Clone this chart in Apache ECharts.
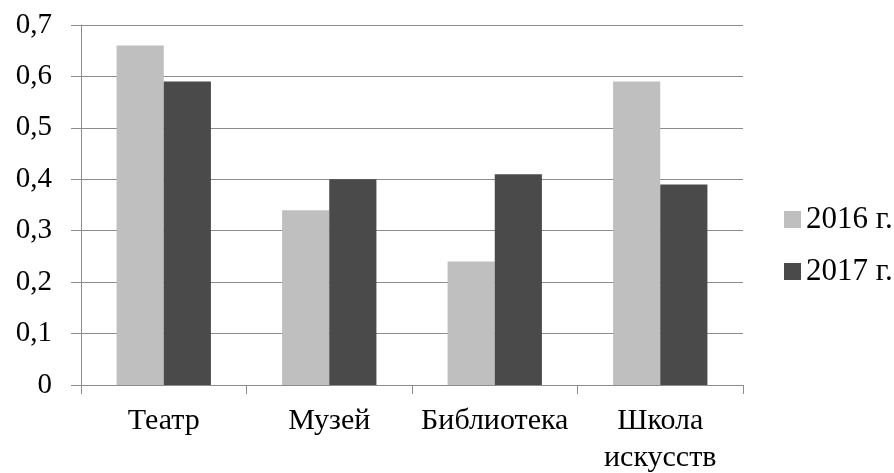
<!DOCTYPE html>
<html>
<head>
<meta charset="utf-8">
<script src="https://cdn.jsdelivr.net/npm/echarts@6/dist/echarts.min.js"></script>
<style>
  html, body { margin: 0; padding: 0; background: #fff; }
  #chart { width: 894px; height: 473px; }
</style>
</head>
<body>
<div id="chart"></div>
<script>
// Categories and values per year
const categories = ['Театр', 'Музей', 'Библиотека', 'Школа\nискусств'];
const years = ['2016 г.', '2017 г.'];
const values2016 = [0.66, 0.34, 0.24, 0.59];
const values2017 = [0.59, 0.40, 0.41, 0.39];
const yTicks = { min: 0, max: 0.7, interval: 0.1 };

const FONT = '"Liberation Serif", "DejaVu Serif", serif';
const GRID_COLOR = '#8c8c8c';

const chart = echarts.init(document.getElementById('chart'));
chart.setOption({
  animation: false,
  backgroundColor: '#ffffff',
  grid: {
    left: 81, right: 151, top: 25, bottom: 88,
    containLabel: false, outerBoundsMode: 'none'
  },
  legend: {
    orient: 'vertical',
    left: 784,
    top: 204,
    padding: 0,
    itemWidth: 17,
    itemHeight: 17,
    itemGap: 21,
    icon: 'rect',
    textStyle: { fontFamily: FONT, fontSize: 31, color: '#000' },
    data: years
  },
  xAxis: {
    type: 'category',
    data: categories,
    axisLine: { lineStyle: { color: GRID_COLOR, width: 1 } },
    axisTick: { show: true, length: 9, lineStyle: { color: GRID_COLOR } },
    axisLabel: {
      fontFamily: FONT, fontSize: 30, color: '#000',
      margin: 18, lineHeight: 37, interval: 0
    }
  },
  yAxis: {
    type: 'value',
    min: yTicks.min,
    max: yTicks.max,
    interval: yTicks.interval,
    axisLine: { show: true, lineStyle: { color: GRID_COLOR, width: 1 } },
    axisTick: { show: true, length: 10, lineStyle: { color: GRID_COLOR } },
    splitLine: { show: true, lineStyle: { color: GRID_COLOR, width: 1 } },
    axisLabel: {
      fontFamily: FONT, fontSize: 29, color: '#000', margin: 29,
      formatter: v => String(Math.round(v * 10) / 10).replace('.', ',')
    }
  },
  series: [
    {
      name: years[0], type: 'bar', data: values2016,
      itemStyle: { color: '#bfbfbf' },
      barGap: '0%', barCategoryGap: '43%'
    },
    {
      name: years[1], type: 'bar', data: values2017,
      itemStyle: { color: '#4a4a4a' },
      barGap: '0%', barCategoryGap: '43%'
    }
  ]
});
</script>
</body>
</html>
